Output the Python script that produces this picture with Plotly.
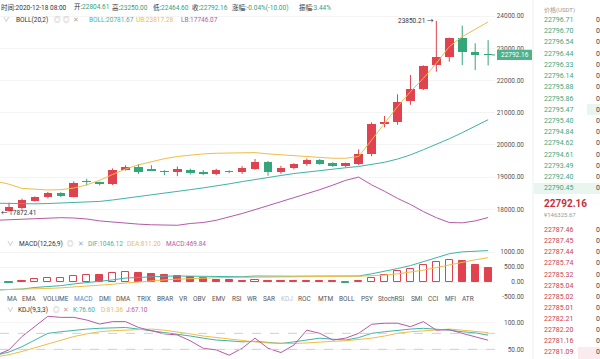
import plotly.graph_objects as go
import pandas as pd

# ---------------- data ----------------
times = list(pd.date_range(end="2020-12-18 08:00", periods=39, freq="h").strftime("%Y-%m-%d %H:%M"))

opens = [18133, 17956, 18030, 18267, 18372, 18496, 18393, 18875, 18815, 18776,
         19220, 19303, 19205, 19175, 19148, 19220, 19167, 19086, 19175, 19148,
         19251, 19479, 19169, 19272, 19397, 19530, 19428, 19340, 19397, 19707,
         20638, 20719, 21352, 21734, 22470, 22727, 23317, 22883, 22804.61]
highs = [18180, 18205, 18330, 18400, 18540, 18530, 18870, 18950, 18860, 19270,
         19370, 19400, 19370, 19215, 19330, 19260, 19215, 19260, 19210, 19340,
         19562, 19500, 19350, 19430, 19580, 19560, 19460, 19450, 19862, 20700,
         20896, 21570, 22169, 22470, 23850.21, 23330, 23700, 23153, 23250.00]
lows = [17872.41, 17930, 17990, 18240, 18340, 18380, 18370, 18740, 18740, 18755,
        19200, 19100, 19190, 19060, 19030, 19080, 19060, 19060, 19120, 19100,
        19230, 19043, 19100, 19240, 19350, 19380, 19320, 19300, 19370, 19645,
        20545, 20625, 21247, 21700, 22270, 22582, 22479, 22324, 22464.60]
closes = [17977, 18062, 18288, 18372, 18496, 18403, 18807, 18850, 18800, 19220,
          19303, 19167, 19195, 19160, 19251, 19117, 19100, 19210, 19160, 19272,
          19479, 19158, 19293, 19397, 19530, 19405, 19344, 19428, 19716, 20638,
          20719, 21330, 21734, 22457, 22727, 23317, 22873, 22800, 22792.16]

boll_ub = [18870, 18780, 18650, 18620, 18600, 18610, 18660, 18760, 18900, 19080,
           19250, 19380, 19480, 19570, 19640, 19690, 19720, 19740, 19740, 19740,
           19760, 19720, 19690, 19660, 19630, 19600, 19585, 19585, 19640, 20150,
           20670, 21186, 21651, 22066, 22532, 23048, 23358, 23597, 23817.28]
boll_mid = [18190, 18180, 18170, 18170, 18180, 18195, 18210, 18230, 18245, 18290,
            18340, 18390, 18440, 18490, 18550, 18610, 18665, 18720, 18790, 18860,
            18930, 18990, 19050, 19110, 19160, 19210, 19250, 19290, 19330, 19390,
            19460, 19560, 19690, 19850, 20010, 20190, 20380, 20570, 20781.67]
boll_lb = [17660, 17680, 17700, 17720, 17735, 17740, 17730, 17700, 17640, 17600,
           17570, 17540, 17520, 17510, 17505, 17560, 17590, 17660, 17760, 17870,
           17990, 18110, 18230, 18360, 18490, 18610, 18750, 18900, 19000, 18760,
           18560, 18340, 18150, 17930, 17740, 17590, 17580, 17640, 17746.07]

macd_hist = [-40, -40, 45, 100, 120, 145, 210, 233, 233, 290,
             333, 300, 277, 245, 210, 165, 130, 70, 55, 35,
             75, 50, 45, 40, 40, 40, 35, -40, 40, 133,
             245, 355, 444, 577, 667, 744, 690, 577, 469.84]
macd_dif = [-267, -262, -235, -182, -155, -122, -65, -23, 6, 70,
            131, 155, 178, 192, 200, 197, 195, 177, 177, 175,
            200, 190, 190, 192, 196, 197, 197, 180, 200, 272,
            352, 447, 547, 683, 813, 942, 1005, 1028, 1046.12]
macd_dea = [-260, -255, -245, -232, -215, -195, -170, -140, -110, -75,
            -35, 5, 40, 70, 95, 115, 130, 142, 150, 157,
            163, 170, 175, 180, 184, 187, 190, 190, 192, 205,
            230, 270, 325, 395, 480, 570, 660, 740, 811.20]

kdj_k = [39, 45, 55, 68, 80, 83, 86, 88, 89.5, 90,
         91, 88, 85, 81, 79, 75, 71, 67.5, 66, 64,
         65, 63, 61, 64, 67.5, 71, 69, 67.5, 72, 80,
         83, 86, 88, 89.5, 88, 86, 83, 81, 76.60]
kdj_d = [36, 40, 46, 53, 61, 68, 74, 79, 83, 85,
         86, 87, 88, 86, 83, 79, 75, 72, 69, 66,
         64, 62, 61, 61, 62, 64, 65, 66, 68, 71,
         75, 80, 83, 85, 87, 88, 86, 84, 81.36]
kdj_j = [39, 49, 74, 92.5, 112, 110, 110, 105, 97.5, 102,
         102, 91, 85, 79, 77, 66, 52, 49, 39, 52,
         71, 52, 44, 58, 86, 80, 67.5, 71, 80, 97,
         99, 99, 92.5, 102, 86, 87, 80, 74, 67.10]

price_ticks = [18000, 19000, 20000, 21000, 22000, 23000, 24000]
macd_ticks = [1000, 500, 0, -500]
kdj_ticks = [100, 50]

ask_prices = ["22796.71", "22796.70", "22796.54", "22796.44", "22796.33", "22796.14",
              "22795.88", "22795.86", "22795.47", "22795.40", "22794.84", "22794.62",
              "22794.61", "22793.49", "22792.40", "22790.45"]
bid_prices = ["22787.46", "22787.45", "22787.44", "22785.74", "22785.32", "22785.04",
              "22785.02", "22785.01", "22782.21", "22782.20", "22781.16", "22781.09"]
ask_amounts = ["0", "0", "0", "0", "0", "0", "0", "0", "0", "0", "0", "0", "0", "0", "0", "0"]
bid_amounts = ["0", "0", "0", "0", "0", "0", "0", "0", "0", "0", "0", "0"]

tabs = [("MA", 6), ("EMA", 21), ("VOLUME", 42), ("MACD", 73), ("DMI", 98), ("DMA", 115),
        ("TRIX", 136), ("BRAR", 156), ("VR", 178), ("OBV", 192), ("EMV", 211), ("RSI", 231),
        ("WR", 246), ("SAR", 262), ("KDJ", 280), ("ROC", 297), ("MTM", 317), ("BOLL", 338),
        ("PSY", 360), ("StochRSI", 377), ("SMI", 410), ("CCI", 427), ("MFI", 444), ("ATR", 461)]

# ---------------- styles ----------------
W, H = 600, 359
RED = "#e0434f"
GREEN = "#35a57c"
TEAL = "#3fb3a8"
YEL = "#f0bd45"
PUR = "#b45aa6"
TXT = "#333333"
FONT = "Roboto, Noto Sans CJK SC, sans-serif"

def py(p):
    return 1 - p / H

def pxx(p):
    return p / W

n = len(times)
xs = list(range(n))
up = [c >= o for o, c in zip(opens, closes)]
body_base = [min(o, c) for o, c in zip(opens, closes)]
body_h = [max(abs(c - o), 28) for o, c in zip(opens, closes)]
body_col = [RED if u else GREEN for u in up]

fig = go.Figure()

for flag, col in ((True, RED), (False, GREEN)):
    wx, wy = [], []
    for i in range(n):
        if up[i] == flag:
            wx += [xs[i], xs[i], None]
            wy += [lows[i], highs[i], None]
    fig.add_trace(go.Scatter(x=wx, y=wy, mode="lines", line=dict(color=col, width=1),
                             xaxis="x", yaxis="y", hoverinfo="skip", showlegend=False))
fig.add_trace(go.Bar(x=xs, y=body_h, base=body_base, width=0.66, hovertext=times,
                     marker=dict(color=body_col, line=dict(width=0)),
                     xaxis="x", yaxis="y", showlegend=False))
for ser, col in ((boll_ub, YEL), (boll_mid, TEAL), (boll_lb, PUR)):
    fig.add_trace(go.Scatter(x=xs, y=ser, mode="lines", line=dict(color=col, width=1),
                             xaxis="x", yaxis="y", showlegend=False))

fill, edge = [], []
for i, v in enumerate(macd_hist):
    prev = macd_hist[i - 1] if i > 0 else v
    base_col = RED if v >= 0 else GREEN
    hollow = v > prev
    fill.append("white" if hollow else base_col)
    edge.append(base_col)
fig.add_trace(go.Bar(x=xs, y=macd_hist, width=0.55,
                     marker=dict(color=fill, line=dict(color=edge, width=1)),
                     xaxis="x2", yaxis="y2", showlegend=False))
for ser, col in ((macd_dif, TEAL), (macd_dea, YEL)):
    fig.add_trace(go.Scatter(x=xs, y=ser, mode="lines", line=dict(color=col, width=1),
                             xaxis="x2", yaxis="y2", showlegend=False))

for ser, col in ((kdj_k, TEAL), (kdj_d, YEL), (kdj_j, PUR)):
    fig.add_trace(go.Scatter(x=xs, y=ser, mode="lines", line=dict(color=col, width=1),
                             xaxis="x3", yaxis="y3", showlegend=False))

fig.add_trace(go.Scatter(x=[xs[-1] + 0.3, 38.53], y=[closes[-1], closes[-1]],
                         mode="lines", line=dict(color=GREEN, width=1, dash="dot"),
                         xaxis="x", yaxis="y", showlegend=False))

XR = [0.305, 38.53]
XDOM = [0, pxx(495)]
axx = dict(range=XR, domain=XDOM, showticklabels=False, ticks="",
           showgrid=False, zeroline=False, showline=False, fixedrange=True)
tickfont = dict(size=6.5, color="#555555", family=FONT)

def yax(dom, rng, tv, fmt):
    return dict(domain=dom, range=rng, tickvals=tv, ticktext=[fmt.format(v) for v in tv],
                side="left", anchor="free", position=pxx(524), ticks="", showline=False,
                zeroline=False, showgrid=True, gridcolor="#f4f4f4", gridwidth=1,
                tickfont=tickfont, fixedrange=True, automargin=False)

fig.update_layout(
    width=W, height=H, margin=dict(l=0, r=0, t=0, b=0, autoexpand=False),
    paper_bgcolor="white", plot_bgcolor="white", bargap=0, barmode="overlay",
    font=dict(family=FONT, size=7, color=TXT), showlegend=False,
    xaxis=dict(axx, anchor="y"),
    xaxis2=dict(axx, anchor="y2", matches="x"),
    xaxis3=dict(axx, anchor="y3", matches="x"),
    yaxis=yax([py(232), 1], [17296, 24496.6], price_ticks, "{:.2f}"),
    yaxis2=yax([py(300), py(237)], [-600, 1500], macd_ticks, "{:.2f}"),
    yaxis3=yax([0, py(314)], [31.9, 116.3], kdj_ticks, "{:.2f}"),
)

shapes = []
for lv in (80, 50):
    shapes.append(dict(type="line", xref="paper", yref="y3", x0=0, x1=pxx(495), y0=lv, y1=lv,
                       line=dict(color="#cfcfcf", width=1, dash="dash")))
shapes.append(dict(type="rect", xref="paper", yref="paper", x0=0, x1=pxx(495),
                   y0=py(305), y1=py(293), fillcolor="white", line=dict(width=0), layer="above"))
shapes.append(dict(type="line", xref="paper", yref="paper", x0=pxx(533), x1=pxx(533), y0=0, y1=1,
                   line=dict(color="#eeeeee", width=1)))
shapes.append(dict(type="rect", xref="paper", yref="paper", x0=pxx(534), x1=1,
                   y0=py(194), y1=py(183), fillcolor="#e9f6f0", line=dict(width=0), layer="below"))
shapes.append(dict(type="rect", xref="paper", yref="paper", x0=pxx(587), x1=1,
                   y0=py(115), y1=py(104), fillcolor="#e9f6f0", line=dict(width=0), layer="below"))
shapes.append(dict(type="rect", xref="paper", yref="paper", x0=pxx(578), x1=1,
                   y0=py(359), y1=py(347), fillcolor="#fcebee", line=dict(width=0), layer="below"))
shapes.append(dict(type="rect", xref="paper", yref="y", x0=pxx(497), x1=pxx(532),
                   y0=closes[-1] - 160, y1=closes[-1] + 160, fillcolor="#4cb38c",
                   line=dict(width=0), layer="above"))
fig.update_layout(shapes=shapes)

ann = []

def txt(x, y, s, size=6.5, color=TXT, anchor="left", yanchor="middle"):
    ann.append(dict(x=pxx(x), y=py(y), xref="paper", yref="paper", text=s, showarrow=False,
                    xanchor=anchor, yanchor=yanchor, borderpad=0,
                    font=dict(size=size, color=color, family=FONT)))

def sp(s, c):
    return f"<span style='color:{c}'>{s}</span>"

VAL = "#2fa27b"
txt(0, 7, "时间:2020-12-18 08:00")
txt(73, 7, "开:" + sp("22804.61", VAL))
txt(111, 7, "高:" + sp("23250.00", VAL))
txt(152, 7, "低:" + sp("22464.60", VAL))
txt(191, 7, "收:" + sp("22792.16", VAL))
txt(231, 7, "涨幅:" + sp("-0.04%(-10.00)", VAL))
txt(298, 7, "振幅:" + sp("3.44%", VAL))

txt(2, 20, "∨", color="#999999")
txt(15, 20, "BOLL(20,2)")
txt(53, 20, "◎", color="#aaaaaa")
txt(62, 20, "◎", color="#aaaaaa")
txt(72, 20, "✕", color="#aaaaaa")
txt(88, 20, sp("BOLL:20781.67", TEAL))
txt(135, 20, sp("UB:23817.28", YEL))
txt(180, 20, sp("LB:17746.07", PUR))

txt(6, 244, "∨", color="#999999")
txt(18, 244, "MACD(12,26,9)")
txt(66, 244, "◎", color="#aaaaaa")
txt(77, 244, "✕", color="#aaaaaa")
txt(87, 244, sp("DIF:1046.12", TEAL))
txt(126, 244, sp("DEA:811.20", YEL))
txt(165, 244, sp("MACD:469.84", PUR))

txt(6, 310, "∨", color="#999999")
txt(17, 310, "KDJ(9,3,3)")
txt(52, 310, "◎", color="#aaaaaa")
txt(62, 310, "✕", color="#aaaaaa")
txt(72, 310, sp("K:76.60", TEAL))
txt(100, 310, sp("D:81.36", YEL))
txt(125, 310, sp("J:67.10", PUR))

for name, x in tabs:
    col = "#3a8fd0" if name == "MACD" else ("#c4c4c4" if name == "KDJ" else "#555555")
    txt(x, 299, name, size=6.5, color=col)

ann.append(dict(x=xs[34], y=highs[34], xref="x", yref="y", text="23850.21 →", showarrow=False,
                xanchor="right", yanchor="middle", xshift=-1, borderpad=0,
                font=dict(size=6.5, color=TXT, family=FONT)))
ann.append(dict(x=0, y=lows[0], xref="paper", yref="y", text="← 17872.41", showarrow=False,
                xanchor="left", yanchor="middle", borderpad=0,
                font=dict(size=6.5, color=TXT, family=FONT)))
ann.append(dict(x=pxx(514.5), y=closes[-1], xref="paper", yref="y", text="{:.2f}".format(closes[-1]),
                showarrow=False, xanchor="center", yanchor="middle", borderpad=0,
                font=dict(size=6.5, color="white", family=FONT)))

txt(543, 10, "价格(USDT)", size=6, color="#999999")
for j, p in enumerate(ask_prices):
    txt(543, 20 + 11.22 * j, p, size=7, color="#3aa882")
    txt(595, 20 + 11.22 * j, ask_amounts[j], size=7, color="#444444")
txt(543, 203, "<b>22792.16</b>", size=10, color="#c9303d")
txt(543, 214, "¥146325.67", size=6, color="#999999")
for j, p in enumerate(bid_prices):
    txt(543, 230 + 11.13 * j, p, size=7, color="#c9424f")
    txt(595, 230 + 11.13 * j, bid_amounts[j], size=7, color="#444444")

fig.update_layout(annotations=ann)
fig.write_html("out.html", config={"displayModeBar": False},
               post_script="document.body.style.margin='0px';document.body.style.overflow='hidden';")
